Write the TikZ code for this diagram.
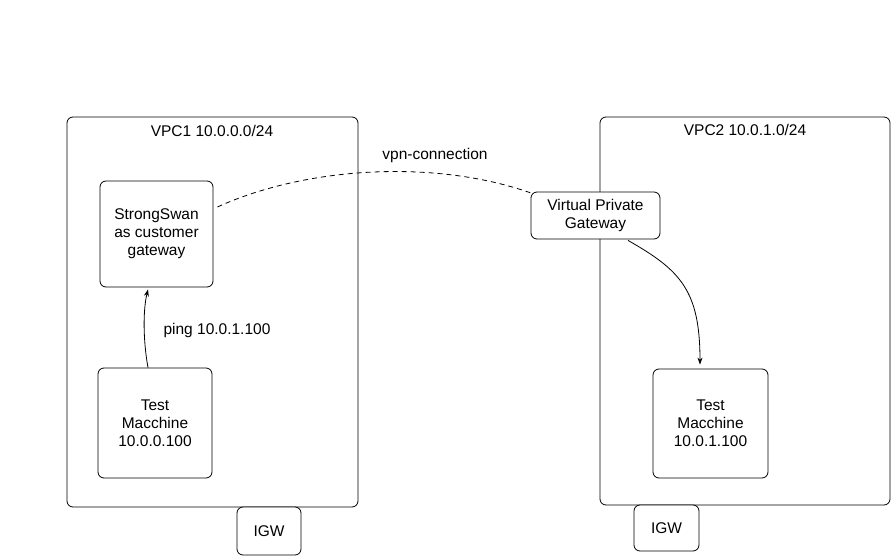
\documentclass[tikz,border=0pt]{standalone}
\usepackage{fontspec}
\setmainfont{Liberation Sans}
\usetikzlibrary{arrows.meta,calc}
\begin{document}
\begin{tikzpicture}[x=1pt,y=-1pt,
  box/.style={draw, line width=0.8pt, rounded corners=6pt, fill=white, align=center, inner sep=0pt},
  lbl/.style={align=center, inner sep=0pt},
  conn/.style={line width=0.8pt, -{Stealth[length=7pt,width=5pt]}},
  every node/.style={font=\fontsize{15.5}{18}\selectfont}]
\useasboundingbox (0,0) rectangle (892,556);
\fill[white] (0,0) rectangle (892,556);
\node[box, minimum width=291pt, minimum height=390pt] (vpc1) at (212.5,312) {};
\node[box, minimum width=290pt, minimum height=388pt] (vpc2) at (745,311) {};
\node[lbl] (vpc1l) at (212,131) {VPC1 10.0.0.0/24};
\node[lbl] (vpc2l) at (745,130) {VPC2 10.0.1.0/24};
\node[box, minimum width=113pt, minimum height=106pt] (ss) at (156.5,234) {StrongSwan\\as customer\\gateway};
\node[box, minimum width=114pt, minimum height=110pt] (tm1) at (155,423) {Test\\Macchine\\10.0.0.100};
\node[box, minimum width=64pt, minimum height=48pt] (igw1) at (269,531) {IGW};
\node[box, minimum width=129pt, minimum height=47pt] (vpg) at (595.5,215.5) {Virtual Private\\Gateway};
\node[box, minimum width=115pt, minimum height=109pt] (tm2) at (710.5,423.5) {Test\\Macchine\\10.0.1.100};
\node[box, minimum width=65pt, minimum height=46pt] (igw2) at (666.5,528) {IGW};
\node[lbl] (vpnl) at (435,155) {vpn-connection};
\node[lbl] (pingl) at (217,330) {ping 10.0.1.100};
\draw[line width=0.8pt, dash pattern=on 5pt off 4pt] ([xshift=4pt,yshift=27pt]ss.east) .. controls (310,165) and (440,160) .. ([xshift=2pt,yshift=-2pt]vpg.north west);
\draw[conn] ([xshift=-7pt]tm1.north) .. controls (143,340) and (143,310) .. ([xshift=-8.5pt,yshift=-2pt]ss.south);
\draw[conn] ([xshift=32.5pt,yshift=-1pt]vpg.south) .. controls (680,270) and (700,290) .. ([xshift=-10.5pt,yshift=4pt]tm2.north);
\end{tikzpicture}
\end{document}
